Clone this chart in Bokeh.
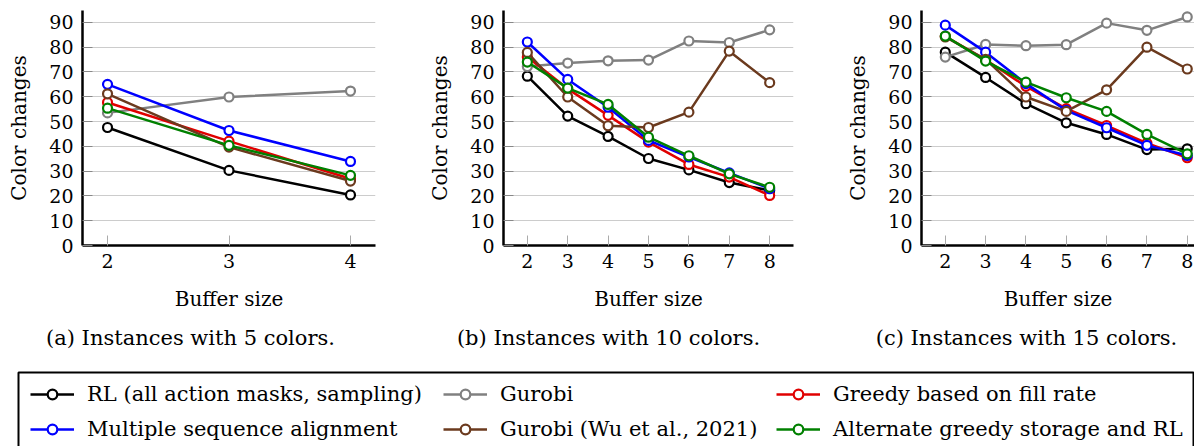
from bokeh.plotting import figure
from bokeh.models import Range1d, FixedTicker, Legend, LegendItem
from bokeh.layouts import column, row
from bokeh.embed import file_html
from bokeh.resources import INLINE
from bokeh.core.properties import value

# ---------------- data ----------------
buffer_a = [2, 3, 4]
buffer_bc = [2, 3, 4, 5, 6, 7, 8]
y_ticks = [0, 10, 20, 30, 40, 50, 60, 70, 80, 90]

names = ["RL (all action masks, sampling)", "Gurobi", "Greedy based on fill rate",
         "Multiple sequence alignment", "Gurobi (Wu et al., 2021)", "Alternate greedy storage and RL"]
colors = ["#000000", "#808080", "#e00000", "#0000ff", "#6b3a1e", "#008000"]

# (a) 5 colors
a_rl = [47.6, 30.3, 20.4]
a_gurobi = [53.5, 59.9, 62.3]
a_greedy = [57.7, 42.1, 26.9]
a_msa = [65.0, 46.4, 33.9]
a_wu = [61.2, 39.7, 26.0]
a_alt = [55.4, 40.4, 28.3]

# (b) 10 colors
b_rl = [68.3, 52.2, 44.0, 35.1, 30.5, 25.4, 22.2]
b_gurobi = [72.2, 73.6, 74.5, 74.8, 82.5, 81.9, 87.0]
b_greedy = [76.0, 63.2, 52.5, 41.7, 32.7, 27.6, 20.2]
b_msa = [82.1, 67.0, 55.8, 42.4, 35.7, 29.3, 22.9]
b_wu = [77.9, 59.9, 48.3, 47.6, 53.8, 78.4, 65.7]
b_alt = [74.0, 63.5, 56.9, 43.7, 36.2, 28.9, 23.5]

# (c) 15 colors
c_rl = [78.0, 67.8, 57.2, 49.5, 44.8, 38.7, 39.0]
c_gurobi = [76.0, 81.1, 80.6, 81.0, 89.7, 86.8, 92.2]
c_greedy = [84.4, 74.9, 64.2, 55.2, 48.4, 41.3, 35.4]
c_msa = [88.9, 78.0, 65.3, 54.5, 47.5, 40.4, 36.3]
c_wu = [84.1, 75.1, 59.9, 54.1, 62.8, 80.0, 71.2]
c_alt = [84.5, 74.4, 65.9, 59.6, 54.1, 44.8, 37.0]

captions = ["(a) Instances with 5 colors.", "(b) Instances with 10 colors.", "(c) Instances with 15 colors."]

FONT = "DejaVu Serif"
TOP_H = 325
TOTAL_H = 446


def make_panel(xs, series, x_range, width, bl, br):
    p = figure(width=width, height=TOP_H, x_range=Range1d(*x_range), y_range=Range1d(0, 94.8),
               output_backend="svg", toolbar_location=None,
               min_border_left=bl, min_border_right=br, min_border_top=10, min_border_bottom=80)
    p.outline_line_color = None
    p.background_fill_color = "white"
    p.border_fill_color = "white"
    p.xgrid.visible = False
    p.ygrid.grid_line_color = "#cccccc"
    p.ygrid.grid_line_width = 1
    p.ygrid.ticker = FixedTicker(ticks=y_ticks)
    p.xaxis.ticker = FixedTicker(ticks=xs)
    p.yaxis.ticker = FixedTicker(ticks=y_ticks)
    for ax in (p.xaxis[0], p.yaxis[0]):
        ax.axis_line_width = 2.5
        ax.axis_line_color = "black"
        ax.major_tick_in = 10
        ax.major_tick_out = 0
        ax.minor_tick_line_color = None
        ax.major_label_text_font = FONT
        ax.major_label_text_font_size = "19px"
        ax.major_label_text_color = "black"
        ax.axis_label_text_font = FONT
        ax.axis_label_text_font_size = "20px"
        ax.axis_label_text_font_style = "normal"
        ax.axis_label_text_color = "black"
    p.xaxis.major_tick_line_color = "#aaaaaa"
    p.yaxis.major_tick_line_color = "#888888"
    p.xaxis.major_label_standoff = 8
    p.yaxis.major_label_standoff = 9
    p.xaxis.axis_label = "Buffer size"
    p.yaxis.axis_label = "Color changes"
    p.xaxis.axis_label_standoff = 16
    p.yaxis.axis_label_standoff = 15
    for ys, col in zip(series, colors):
        p.line(xs, ys, line_color=col, line_width=2.5)
        p.scatter(xs, ys, marker="circle", size=9, line_color=col, line_width=2.2, fill_color="white")
    return p


pa = make_panel(buffer_a, [a_rl, a_gurobi, a_greedy, a_msa, a_wu, a_alt], (1.794, 4.206), 425, 82, 50)
pb = make_panel(buffer_bc, [b_rl, b_gurobi, b_greedy, b_msa, b_wu, b_alt], (1.41, 8.59), 418, 76, 50)
pc = make_panel(buffer_bc, [c_rl, c_gurobi, c_greedy, c_msa, c_wu, c_alt], (1.41, 8.18), 351, 76, 0)

# ---------------- captions + legend ----------------
pl = figure(width=1194, height=TOTAL_H - TOP_H, x_range=Range1d(0, 1194), y_range=Range1d(TOTAL_H, TOP_H),
            output_backend="svg", toolbar_location=None, min_border=0,
            x_axis_type=None, y_axis_type=None)
pl.outline_line_color = None
pl.xgrid.visible = False
pl.ygrid.visible = False

pl.text(x=[190, 608, 1026], y=[337, 337, 337], text=captions, text_font=value(FONT),
        text_font_size="21px", text_align="center", text_baseline="middle", text_color="black")

pl.quad(left=[18], right=[1193], top=[372], bottom=[480], fill_color=None,
        line_color="black", line_width=2)

items = []
for name, col in zip(names, colors):
    r1 = pl.line(x=[-500, -400], y=[-500, -500], line_color=col, line_width=2.5)
    r2 = pl.scatter(x=[-450], y=[-500], marker="circle", line_color=col, line_width=2.2, fill_color="white")
    items.append(LegendItem(label=name, renderers=[r1, r2]))

col_x = [30, 443, 776]
for i in range(3):
    leg = Legend(items=[items[i], items[i + 3]], location=(col_x[i], 5),
                 padding=0, margin=0, spacing=11, glyph_width=44, glyph_height=24,
                 label_height=24, label_standoff=13, label_text_font=FONT,
                 label_text_font_size="21px", label_text_color="black",
                 border_line_color=None, background_fill_alpha=0)
    pl.add_layout(leg)

layout = column(row(pa, pb, pc, spacing=0), pl, spacing=0)
open("out.html", "w").write(file_html(layout, INLINE))
